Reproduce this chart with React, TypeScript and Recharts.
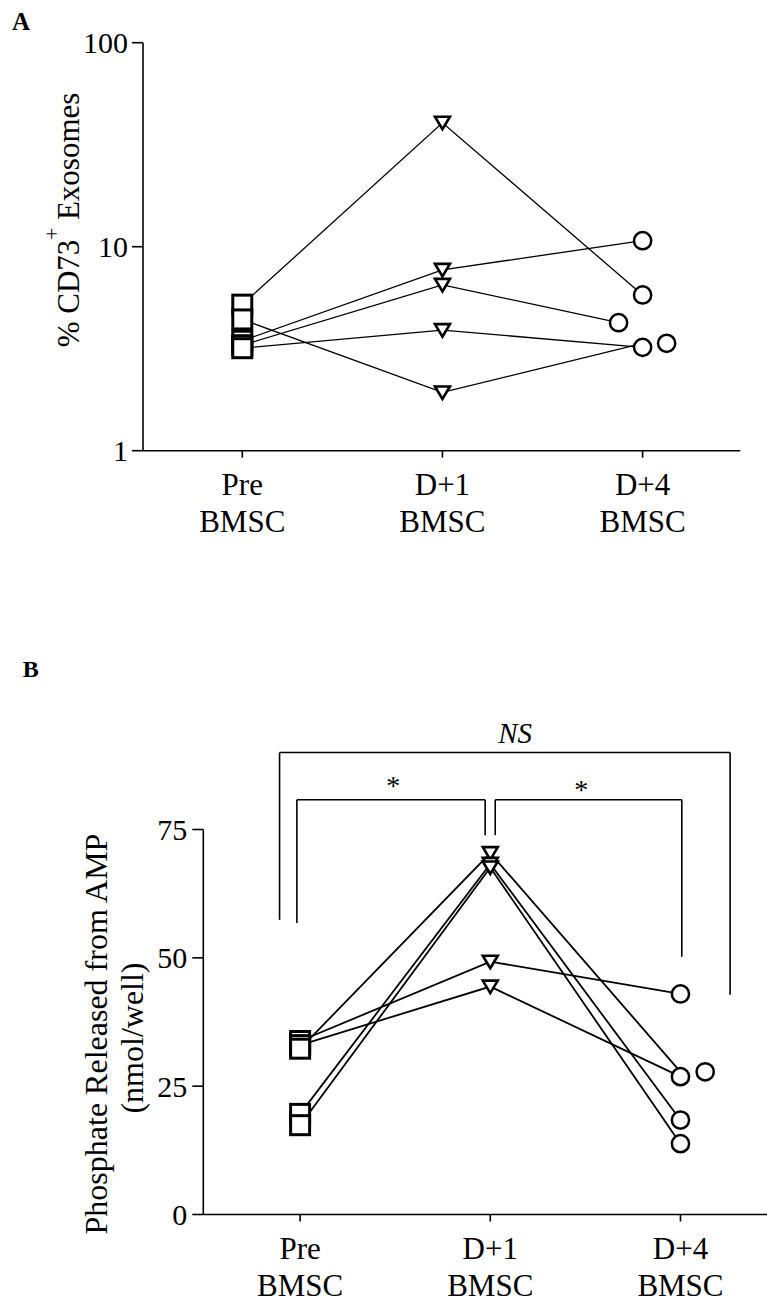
import React from 'react';
import { ComposedChart, Scatter, XAxis, YAxis, ReferenceLine, ReferenceDot, Label } from 'recharts';

const FONT = '"Liberation Serif", "Times New Roman", Times, serif';

// ---- shared categories ----
const timeIndex = [0, 1, 2];
const timeLabels = ['Pre', 'D+1', 'D+4'];
const timeSubLabels = ['BMSC', 'BMSC', 'BMSC'];

// ---- Panel A: % CD73+ exosomes (one entry per patient) ----
const cd73Pre = [5.2, 4.4, 3.46, 3.29, 3.18];
const cd73D1 = [40.5, 1.93, 7.7, 6.5, 3.9];
const cd73D4 = [5.8, 3.36, 10.7, 4.24, 3.21];
const cd73D4MarkerNudge = [0, 0.12, 0, -0.12, 0];
const cd73D4LineNudge = [0, 0, 0, -0.12, 0];
const cd73Ticks = [1, 10, 100];

// ---- Panel B: phosphate released from AMP (nmol/well) ----
const phosPre = [33.8, 33.0, 32.3, 19.6, 17.4];
const phosD1 = [49.25, 44.4, 70.4, 68.3, 67.6];
const phosD4 = [42.96, 26.85, 27.8, 18.4, 13.8];
const phosD4MarkerNudge = [0, 0, 0.13, 0, 0];
const phosD4LineNudge = [0, 0, 0, 0, 0];
const phosTicks = [0, 25, 50, 75];

// ---- Panel B significance brackets (x in time units, y in nmol/well) ----
const nsBracket = [
  [{ x: -0.108, y: 57.4 }, { x: -0.108, y: 90 }],
  [{ x: -0.108, y: 90 }, { x: 2.261, y: 90 }],
  [{ x: 2.261, y: 90 }, { x: 2.261, y: 42.8 }],
];
const starBracketLeft = [
  [{ x: -0.017, y: 56.8 }, { x: -0.017, y: 80.8 }],
  [{ x: -0.017, y: 80.8 }, { x: 0.973, y: 80.8 }],
  [{ x: 0.973, y: 80.8 }, { x: 0.973, y: 73.9 }],
];
const starBracketRight = [
  [{ x: 1.026, y: 73.9 }, { x: 1.026, y: 80.8 }],
  [{ x: 1.026, y: 80.8 }, { x: 2.007, y: 80.8 }],
  [{ x: 2.007, y: 80.8 }, { x: 2.007, y: 50.2 }],
];
const sigLabels = [
  { x: 1.131, y: 91.8, text: 'NS', italic: true },
  { x: 0.49, y: 81.8, text: '*', italic: false },
  { x: 1.478, y: 80.9, text: '*', italic: false },
];

const buildSubjects = (pre: number[], d1: number[], d4: number[], nudge: number[]) =>
  pre.map((p, i) => [
    { x: timeIndex[0], y: p },
    { x: timeIndex[1], y: d1[i] },
    { x: timeIndex[2] + nudge[i], y: d4[i] },
  ]);

const buildMarkers = (vals: number[], t: number, nudge?: number[]) =>
  vals.map((v, i) => ({ x: t + (nudge ? nudge[i] : 0), y: v }));

const Empty = () => <g />;

const SquareShape = (p: any) => (
  <rect x={p.cx - 9.5} y={p.cy - 9.5} width={19} height={19} fill="#fff" stroke="#000" strokeWidth={3} />
);
const TriangleShape = (p: any) => (
  <polygon
    points={`${p.cx - 7.5},${p.cy - 6} ${p.cx + 7.5},${p.cy - 6} ${p.cx},${p.cy + 6.5}`}
    fill="#fff"
    stroke="#000"
    strokeWidth={2.6}
    strokeLinejoin="miter"
  />
);
const CircleShape = (p: any) => (
  <circle cx={p.cx} cy={p.cy} r={8.6} fill="#fff" stroke="#000" strokeWidth={2.5} />
);

const CategoryTick = (props: any) => {
  const { x, y, payload } = props;
  const i = payload.value as number;
  return (
    <text x={x} y={y} textAnchor="middle" fontFamily={FONT} fontSize={31} fill="#000">
      <tspan x={x} y={y + 35.5}>{timeLabels[i]}</tspan>
      <tspan x={x} y={y + 72.5}>{timeSubLabels[i]}</tspan>
    </text>
  );
};

const axisStyle = { stroke: '#000', strokeWidth: 1.6 };
const yTickStyle = { fill: '#000', fontSize: 30, fontFamily: FONT };

const subjectsA = buildSubjects(cd73Pre, cd73D1, cd73D4, cd73D4LineNudge);
const subjectsB = buildSubjects(phosPre, phosD1, phosD4, phosD4LineNudge);

function ChartA() {
  return (
    <ComposedChart width={767} height={560} margin={{ top: 42.7, right: 26.7, bottom: 9.3, left: 83 }}>
      <XAxis
        type="number"
        dataKey="x"
        domain={[-0.496, 2.488]}
        ticks={timeIndex}
        allowDataOverflow
        interval={0}
        tickSize={7}
        tickMargin={2}
        height={100}
        axisLine={axisStyle}
        tickLine={axisStyle}
        tick={<CategoryTick />}
      />
      <YAxis
        type="number"
        dataKey="y"
        scale="log"
        domain={[1, 100]}
        ticks={cd73Ticks}
        allowDataOverflow
        interval={0}
        width={60}
        tickSize={11}
        tickMargin={4}
        axisLine={axisStyle}
        tickLine={axisStyle}
        tick={yTickStyle}
      >
        <Label
          content={() => (
            <text
              x={78.5}
              y={220}
              transform="rotate(-90 78.5 220)"
              textAnchor="middle"
              fontFamily={FONT}
              fontSize={31}
              fill="#000"
            >
              % CD73
              <tspan dy={-20} fontSize={21}>+</tspan>
              <tspan dy={20}> Exosomes</tspan>
            </text>
          )}
        />
      </YAxis>
      {subjectsA.map((pts, i) => (
        <Scatter
          key={`sa${i}`}
          data={pts}
          line={{ stroke: '#000', strokeWidth: 1.3 }}
          shape={Empty}
          isAnimationActive={false}
        />
      ))}
      <Scatter data={buildMarkers(cd73Pre, timeIndex[0])} shape={SquareShape} isAnimationActive={false} />
      <Scatter data={buildMarkers(cd73D1, timeIndex[1])} shape={TriangleShape} isAnimationActive={false} />
      <Scatter
        data={buildMarkers(cd73D4, timeIndex[2], cd73D4MarkerNudge)}
        shape={CircleShape}
        isAnimationActive={false}
      />
    </ComposedChart>
  );
}

function ChartB() {
  const segs = [...nsBracket, ...starBracketLeft, ...starBracketRight];
  return (
    <ComposedChart width={767} height={613} margin={{ top: 139.5, right: 0, bottom: 0.5, left: 143.3 }}>
      <XAxis
        type="number"
        dataKey="x"
        domain={[-0.509, 2.455]}
        ticks={timeIndex}
        allowDataOverflow
        interval={0}
        tickSize={7}
        tickMargin={2}
        height={88}
        axisLine={axisStyle}
        tickLine={axisStyle}
        tick={<CategoryTick />}
      />
      <YAxis
        type="number"
        dataKey="y"
        domain={[0, 75]}
        ticks={phosTicks}
        allowDataOverflow
        interval={0}
        width={60}
        tickSize={11}
        tickMargin={5}
        axisLine={axisStyle}
        tickLine={axisStyle}
        tick={yTickStyle}
      >
        <Label
          content={() => (
            <g>
              <text
                x={106.5}
                y={344}
                transform="rotate(-90 106.5 344)"
                textAnchor="middle"
                fontFamily={FONT}
                fontSize={32}
                fill="#000"
              >
                Phosphate Released from AMP
              </text>
              <text
                x={143}
                y={348}
                transform="rotate(-90 143 348)"
                textAnchor="middle"
                fontFamily={FONT}
                fontSize={32}
                fill="#000"
              >
                (nmol/well)
              </text>
            </g>
          )}
        />
      </YAxis>
      {segs.map((s, i) => (
        <ReferenceLine key={`br${i}`} segment={s} stroke="#000" strokeWidth={1.6} ifOverflow="visible" />
      ))}
      {sigLabels.map((l, i) => (
        <ReferenceDot
          key={`sl${i}`}
          x={l.x}
          y={l.y}
          r={1}
          fill="none"
          stroke="none"
          ifOverflow="visible"
          label={(props: any) => {
            const vb = props.viewBox || {};
            const cx = (vb.x ?? 0) + (vb.width ?? 0) / 2;
            const cy = (vb.y ?? 0) + (vb.height ?? 0) / 2;
            return (
              <text
                x={cx}
                y={cy}
                textAnchor="middle"
                fontFamily={FONT}
                fontSize={l.italic ? 29 : 28}
                fontStyle={l.italic ? 'italic' : 'normal'}
                fill="#000"
              >
                {l.text}
              </text>
            );
          }}
        />
      ))}
      {subjectsB.map((pts, i) => (
        <Scatter
          key={`sb${i}`}
          data={pts}
          line={{ stroke: '#000', strokeWidth: 1.8 }}
          shape={Empty}
          isAnimationActive={false}
        />
      ))}
      <Scatter data={buildMarkers(phosPre, timeIndex[0])} shape={SquareShape} isAnimationActive={false} />
      <Scatter data={buildMarkers(phosD1, timeIndex[1])} shape={TriangleShape} isAnimationActive={false} />
      <Scatter
        data={buildMarkers(phosD4, timeIndex[2], phosD4MarkerNudge)}
        shape={CircleShape}
        isAnimationActive={false}
      />
    </ComposedChart>
  );
}

export default function App() {
  return (
    <div style={{ position: 'absolute', left: 0, top: 0, width: 767, height: 1303, background: '#fff' }}>
      <svg style={{ position: 'absolute', left: 0, top: 0 }} width={767} height={1303}>
        <text x={12} y={30} fontFamily={FONT} fontWeight="bold" fontSize={25} fill="#000">A</text>
        <text x={22.7} y={677} fontFamily={FONT} fontWeight="bold" fontSize={24} fill="#000">B</text>
      </svg>
      <div style={{ position: 'absolute', left: 0, top: 0 }}>
        <ChartA />
      </div>
      <div style={{ position: 'absolute', left: 0, top: 690 }}>
        <ChartB />
      </div>
    </div>
  );
}
